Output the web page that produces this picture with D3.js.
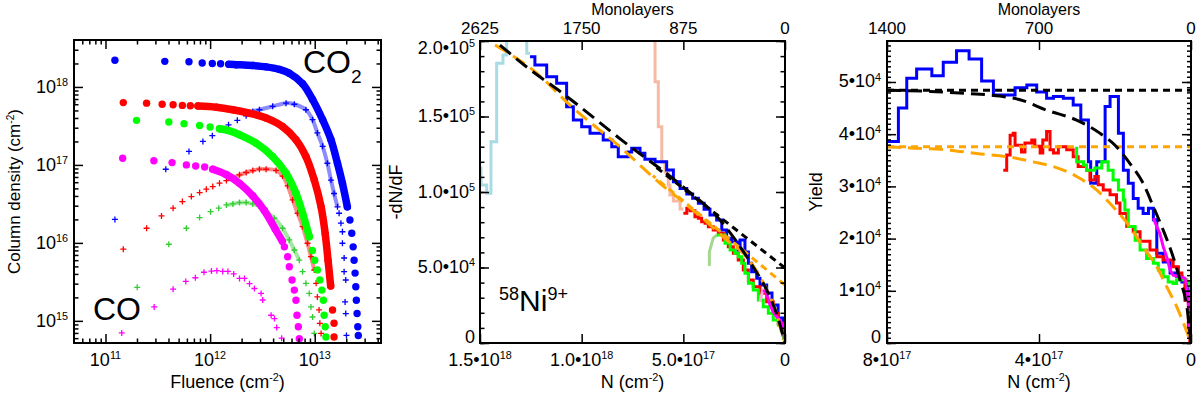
<!DOCTYPE html>
<html>
<head>
<meta charset="utf-8">
<script src="https://cdn.jsdelivr.net/npm/d3@7"></script>
<style>
  body { margin: 0; background: #fff; }
  svg { font-family: "Liberation Sans", Arial, Helvetica, sans-serif; }
  .ax path.domain { display: none; }
  .ax line { stroke: #000; stroke-width: 1.5; }
</style>
</head>
<body>
<div id="chart"></div>
<script>
// ---------- panel 1: column density vs fluence ([fluence, N] in cm^-2) ----------
// big dots = CO2, crosses = CO
const co2Blue = [[1.23e11,2.2e18],[3.69e11,2.13e18],[6.28e11,2.1e18],[8.4e11,2.03e18],[1.05e12,2.0e18],[1.26e12,1.98e18],[1.51e12,1.95e18],
  [1.78e12,1.93e18],[2.56e12,1.88e18],[3.43e12,1.81e18],[4.59e12,1.68e18],[5.71e12,1.5e18],[7.66e12,1.1e18],[9.53e12,6.9e17],[1.19e13,3.8e17],
  [1.43e13,2.1e17],[1.65e13,1.05e17],[1.84e13,5.8e16],[2.05e13,2.9e16],[2.17e13,1.97e16],[2.26e13,1.33e16],[2.33e13,8.9e15],[2.38e13,6.0e15],
  [2.43e13,4.1e15],[2.47e13,2.74e15],[2.5e13,1.84e15],[2.54e13,1.24e15],[2.58e13,8.4e14],[2.61e13,6.5e14]];
const co2BlueTrail = [6, 18];
const co2Red = [[4.8e10,6.3e17],[1.48e11,6.3e17],[2.47e11,6.2e17],[3.48e11,6.0e17],[4.43e11,5.9e17],[5.43e11,5.8e17],[6.47e11,5.75e17],[7.65e11,5.7e17],
  [1.15e12,5.5e17],[1.65e12,5.1e17],[2.38e12,4.6e17],[3.43e12,4.0e17],[4.93e12,3.1e17],[6.62e12,2.1e17],[8.24e12,1.28e17],[9.9e12,6.4e16],
  [1.15e13,2.9e16],[1.26e13,1.3e16],[1.34e13,6.0e15],[1.42e13,2.8e15],[1.48e13,1.38e15],[1.53e13,9.3e14],[1.53e13,6.2e14]];
const co2RedTrail = [7, 19];
const co2Green = [[1.98e11,3.73e17],[4.03e11,3.55e17],[5.63e11,3.38e17],[7.94e11,3.2e17],[1.0e12,3.06e17],[1.23e12,2.91e17],[1.48e12,2.77e17],
  [1.91e12,2.44e17],[2.75e12,1.9e17],[3.96e12,1.28e17],[5.32e12,7.8e16],[6.62e12,4.3e16],[7.66e12,2.4e16],[8.87e12,1.2e16],
  [9.5e12,8.0e15],[1.0e13,6.0e15],[1.06e13,4.5e15],[1.12e13,3.34e15],[1.17e13,2.48e15],[1.21e13,1.84e15],[1.23e13,1.18e15],[1.26e13,8.4e14],[1.28e13,6.2e14]];
const co2GreenTrail = [5, 13];
const co2Magenta = [[1.46e11,1.22e17],[2.9e11,1.13e17],[4.33e11,1.07e17],[5.93e11,1.0e17],[7.28e11,9.7e16],[8.87e11,9.4e16],[1.06e12,8.8e16],
  [1.43e12,7.5e16],[1.91e12,5.8e16],[2.56e12,4.0e16],[3.3e12,2.6e16],[4.2e12,1.5e16],[4.9e12,1.05e16],[5.13e12,8.9e15],
  [5.51e12,6.65e15],[5.71e12,4.95e15],[6.07e12,3.34e15],[6.38e12,2.48e15],[6.62e12,1.84e15],[6.77e12,1.18e15],[6.97e12,8.4e14],[7.12e12,5.9e14]];
const co2MagentaTrail = [6, 12];

const coBlue = [[1.23e11,2.0e16],[3.77e11,8.8e16],[6.28e11,1.49e17],[8.53e11,2.0e17],[1.05e12,2.37e17],[1.26e12,2.83e17],[1.5e12,3.27e17],[1.82e12,3.73e17],
  [2.21e12,4.27e17],[2.56e12,4.86e17],[2.96e12,5.1e17],[3.96e12,5.64e17],[5.32e12,6.2e17],[6.38e12,6.0e17],[8.24e12,5.1e17],[9.53e12,3.8e17],
  [1.06e13,2.57e17],[1.19e13,1.73e17],[1.32e13,1.05e17],[1.43e13,6.4e16],[1.53e13,4.3e16],[1.65e13,2.9e16],
  [1.71e13,2.4e16],[1.78e13,1.79e16],[1.84e13,1.39e16],[1.84e13,9.9e15],[1.91e13,6.4e15],[1.91e13,4.27e15],[1.98e13,3.34e15],
  [1.95e13,1.75e15],[1.98e13,1.24e15],[2.01e13,6.5e14]];
const coBlueTrail = [8, 21];
const coRed = [[4.8e10,2.2e15],[1.48e11,8.3e15],[2.47e11,1.54e16],[3.43e11,2.22e16],[4.43e11,2.79e16],[5.43e11,3.39e16],[6.62e11,3.93e16],
  [7.94e11,4.42e16],[9.2e11,4.88e16],[1.06e12,5.28e16],[1.23e12,5.83e16],[1.43e12,6.3e16],[1.65e12,6.77e16],[1.91e12,7.46e16],[2.21e12,7.99e16],
  [2.56e12,8.47e16],[2.96e12,8.83e16],[3.43e12,8.8e16],[4.27e12,8.5e16],[4.93e12,7.2e16],[5.51e12,5.4e16],[6.15e12,3.56e16],[6.86e12,2.4e16],
  [7.66e12,1.62e16],[8.53e12,9.9e15],[9.2e12,6.65e15],[9.9e12,4.49e15],[1.03e13,3.03e15],[1.06e13,2.03e15],[1.1e13,1.38e15],[1.12e13,9.3e14],[1.15e13,6.9e14]];
const coRedTrail = [12, 26];
const coGreen = [[2.01e11,2.69e15],[4.03e11,9.6e15],[5.93e11,1.54e16],[7.94e11,2.11e16],[1.01e12,2.51e16],[1.21e12,2.79e16],[1.43e12,3.07e16],
  [1.65e12,3.16e16],[1.91e12,3.29e16],[2.21e12,3.29e16],[2.56e12,3.16e16],[2.92e12,2.98e16],[3.3e12,2.64e16],[4.11e12,2.07e16],[4.93e12,1.54e16],
  [5.71e12,1.09e16],[6.38e12,8.1e15],[7.12e12,6.0e15],[7.66e12,4.27e15],[8.24e12,3.03e15],[8.87e12,2.25e15],[9.2e12,1.51e15],[9.53e12,1.12e15],[9.9e12,6.9e14]];
const coGreenTrail = [6, 17];
const coMagenta = [[1.43e11,7.0e14],[2.92e11,1.51e15],[4.43e11,2.55e15],[5.85e11,3.2e15],[7.23e11,3.57e15],[8.73e11,4.2e15],[1.03e12,4.35e15],
  [1.16e12,4.4e15],[1.32e12,4.3e15],[1.48e12,4.3e15],[1.68e12,4.0e15],[1.91e12,3.5e15],[2.13e12,3.5e15],[2.38e12,3.0e15],[2.65e12,2.6e15],
  [3.07e12,2.25e15],[3.18e12,1.85e15],[3.83e12,1.18e15],[4.12e12,1.07e15],[4.33e12,8.2e14],[4.83e12,6.0e14]];

// ---------- panel 2: -dN/dF (1e4) vs N (1e17 cm^-2) ----------
// histograms: bin edges + one value per bin
const p2LightBlueN = [15.10,14.95,14.67,14.46,14.18,13.87,13.69,12.70,12.54];
const p2LightBlueY = [11.59,10.46,9.91,13.33,18.52,19.07,21.4,19.19];
const p2BlueN = [12.54,12.30,11.72,11.23,10.74,10.41,10.00,9.59,8.94,8.52,8.20,7.71,7.54,7.13,6.89,6.39,5.82,5.49,5.16,4.83,
  4.54,4.26,3.98,3.69,3.36,3.11,2.87,2.62,2.31,2.21,1.97,1.80,1.64,1.39,1.23,0.90,0.64,0.34,0.10,0];
const p2BlueY = [18.96,18.41,17.64,17.20,15.65,14.77,14.32,13.89,13.44,13.00,12.34,12.65,12.89,12.56,12.17,12.01,11.46,10.68,10.24,9.87,
  9.58,9.25,8.85,8.48,8.15,7.48,6.93,6.69,6.16,6.82,6.03,5.28,4.72,4.28,3.84,3.31,2.52,1.66,0.53];
const p2SalmonN = [6.64,6.39,6.23,6.06,5.90,5.74,5.66,5.49,5.16,5.00];
const p2SalmonY = [21.06,17.30,14.32,11.99,11.32,10.46,9.80,9.40,8.87];
// traces: one value per point
const p2RedN = [5.00,4.83,4.67,4.43,4.26,4.10,3.93,3.77,3.53,3.28,3.03,2.79,2.54,2.30,2.05,1.80,1.56,1.23,0.90,0.58,0.33,0.11,0.05,0];
const p2RedY = [8.59,8.92,8.76,8.36,8.26,8.03,7.93,7.70,7.48,7.26,6.82,6.38,5.94,5.50,4.83,4.17,3.73,3.29,2.74,1.97,1.30,0.64,0.3,0];
const p2LightGreenN = [3.72,3.72,3.53,3.36];
const p2LightGreenY = [5.10,6.03,6.95,7.15];
const p2GreenN = [3.36,3.20,2.95,2.70,2.46,2.30,2.13,1.97,1.80,1.56,1.31,1.07,0.82,0.58,0.33,0.16,0.05,0];
const p2GreenY = [7.15,7.15,6.60,6.16,5.94,5.72,5.28,4.62,3.95,3.51,2.85,2.40,1.97,1.52,1.19,0.75,0.3,0];
const p2PinkN = [1.23,1.07];
const p2PinkY = [2.74,3.62];
const p2MagentaN = [1.07,0.90,0.74,0.58,0.41,0.25,0.11,0.05,0];
const p2MagentaY = [3.51,3.29,2.52,2.07,1.74,1.52,1.19,0.64,0];
// fits
const p2BlackCurveN = [14.02,12.62,10.82,8.03,5.02,3.20,1.57,0.90,0.39,0];
const p2BlackCurveY = [19.73,18.19,16.42,13.44,10.35,8.15,5.05,3.51,1.85,0];
const p2OrangeCurveN = [14.26,12.30,10.49,8.03,6.15,4.83,3.85,2.87,2.05,1.23,0.74,0.41,0.16,0];
const p2OrangeCurveY = [19.73,17.97,15.65,12.89,10.58,9.14,8.03,6.82,5.94,4.39,3.07,1.97,0.64,0];
const p2LineN = [0, 6.5];
const p2BlackLineY = [4.97, 11.81];
const p2OrangeLineY = [3.84, 11.08];

// ---------- panel 3: yield (1e4) vs N (1e17 cm^-2) ----------
const p3BlueN = [8.00,7.70,7.48,7.22,6.82,6.52,6.17,5.84,5.51,5.20,4.63,4.32,4.06,3.80,3.62,3.36,3.10,2.90,2.70,2.64,
  2.48,2.26,2.13,1.91,1.78,1.65,1.52,1.39,1.26,1.12,0.99,0.90,0.73,0.55,0.38,0.24,0.11,0.05,0];
const p3BlueY = [3.86,4.50,5.07,5.25,5.12,5.38,5.60,5.44,5.02,4.75,4.89,4.94,4.81,4.69,4.72,4.69,4.56,4.27,3.47,3.06,
  3.47,4.53,4.72,4.02,3.31,3.06,2.77,2.58,2.48,2.58,2.36,1.72,1.55,1.34,1.28,1.17,1.07,0.25];
const p3RedN = [4.94,4.85,4.76,4.68,4.63,4.46,4.37,4.19,4.11,3.97,3.90,3.80,3.71,3.62,3.49,3.27,3.10,2.97,2.75,2.66,
  2.53,2.44,2.31,2.13,1.96,1.87,1.69,1.52,1.34,1.08,0.90,0.73,0.47,0.33,0.24,0.16,0.07,0.03];
const p3RedY = [3.31,3.60,3.98,4.02,3.79,3.66,3.83,3.89,3.77,3.64,3.89,4.05,3.70,3.64,3.76,3.70,3.57,3.38,3.31,3.12,
  3.19,3.03,2.93,2.84,2.68,2.48,2.23,2.13,1.95,1.78,1.65,1.59,1.46,1.34,1.21,0.82,0.31,0];
const p3GreenN = [3.05,3.01,2.83,2.75,2.53,2.35,2.22,2.18,2.05,1.91,1.78,1.74,1.65,1.47,1.34,1.17,0.99,0.86,0.73,0.60,0.47,0.38,0.20,0.11,0.03,0.01,0];
const p3GreenY = [3.73,3.47,3.41,3.31,3.35,3.47,3.47,3.31,3.12,2.93,2.74,2.55,2.23,1.97,1.78,1.62,1.53,1.40,1.27,1.17,1.14,1.21,1.21,1.17,1.08,0.63,0];
const p3MagentaN = [0.99,0.90,0.82,0.73,0.64,0.55,0.47,0.29,0.16,0.11,0.066,0.03,0];
const p3MagentaY = [2.39,2.23,2.10,1.84,1.65,1.40,1.30,1.27,1.24,1.08,0.73,0.25,0];
const p3BlackFlat = 4.84;
const p3OrangeFlat = 3.76;
const p3BlackCurveN = [8.00,6.87,5.90,5.03,4.50,3.80,3.01,2.40,1.96,1.61,1.26,0.99,0.73,0.47,0.29,0.11,0];
const p3BlackCurveY = [4.84,4.82,4.78,4.73,4.66,4.46,4.27,4.02,3.76,3.44,3.06,2.61,2.16,1.65,1.21,0.70,0];
const p3OrangeCurveN = [8.00,7.22,6.43,5.64,4.85,4.15,3.62,3.01,2.48,2.05,1.61,1.26,0.90,0.64,0.38,0.16,0];
const p3OrangeCurveY = [3.76,3.73,3.70,3.63,3.57,3.47,3.38,3.19,2.93,2.61,2.23,1.84,1.46,1.08,0.70,0.31,0];

// tick labels
const p1XTicks = [1e11, 1e12, 1e13], p1XExp = ["11", "12", "13"];
const p1YTicks = [1e15, 1e16, 1e17, 1e18], p1YExp = ["15", "16", "17", "18"];
const p2XTicks = [15, 10, 5, 0], p2XText = ["1.5\u202210", "1.0\u202210", "5.0\u202210", "0"], p2XExp = ["18", "18", "17", ""];
const p2YTicks = [20, 15, 10, 5, 0], p2YText = ["2.0\u202210", "1.5\u202210", "1.0\u202210", "5.0\u202210", "0"], p2YExp = ["5", "5", "5", "4", ""];
const p2TopTicks = [2625, 1750, 875, 0];
const p3XTicks = [8, 4, 0], p3XText = ["8\u202210", "4\u202210", "0"], p3XExp = ["17", "17", ""];
const p3YTicks = [5, 4, 3, 2, 1, 0], p3YText = ["5\u202210", "4\u202210", "3\u202210", "2\u202210", "1\u202210", "0"], p3YExp = ["4", "4", "4", "4", "4", ""];
const p3TopTicks = [1400, 700, 0];

const BLUE = "#0000ff", RED = "#ff0000", GREEN = "#00ff00", MAGENTA = "#ff00ff", ORANGE = "#ffa500";

var svg = d3.select("#chart").append("svg")
    .attr("width", 1200)
    .attr("height", 395);

// text made of parts, some raised (sup) or lowered (sub)
function richText(g, x, y, parts, size, anchor) {
    const t = g.append("text")
        .attr("x", x).attr("y", y)
        .attr("font-size", size)
        .attr("text-anchor", anchor || "middle");
    let shift = 0;
    parts.forEach(p => {
        const target = p.sup ? -size * 0.38 : p.sub ? size * 0.3 : 0;
        t.append("tspan")
            .attr("dy", target - shift)
            .attr("font-size", (p.sup || p.sub) ? size * 0.6 : size)
            .text(p.t);
        shift = target;
    });
    return t;
}

function ticks(g, scale, side, values, len, pos) {
    const make = {bottom: d3.axisBottom, top: d3.axisTop, left: d3.axisLeft, right: d3.axisRight}[side];
    const t = (side === "bottom" || side === "top") ? `translate(0,${pos})` : `translate(${pos},0)`;
    g.append("g")
        .attr("class", "ax")
        .attr("transform", t)
        .call(make(scale).tickValues(values).tickSize(-len).tickFormat(""));
}

function logMinors(lo, hi) {
    const out = [];
    for (let e = Math.floor(Math.log10(lo)); e <= Math.ceil(Math.log10(hi)); e++) {
        for (let m = 2; m <= 9; m++) {
            const v = m * Math.pow(10, e);
            if (v > lo && v < hi) out.push(v);
        }
    }
    return out;
}

function panelFrame(box, id) {
    svg.append("clipPath").attr("id", id)
        .append("rect").attr("x", box.x0).attr("y", box.y0)
        .attr("width", box.x1 - box.x0).attr("height", box.y1 - box.y0);
    return svg.append("g").attr("clip-path", `url(#${id})`);
}

function drawFrame(box) {
    svg.append("rect")
        .attr("x", box.x0).attr("y", box.y0)
        .attr("width", box.x1 - box.x0).attr("height", box.y1 - box.y0)
        .attr("fill", "none").attr("stroke", "#000").attr("stroke-width", 2);
}

// y tick labels sit on the tick, pushed inside the frame at both ends
function yLabelBase(ty, box) {
    return Math.min(Math.max(ty + 5.5, box.y0 + 13), box.y1);
}

const TICK_BASE = 366, TITLE_BASE = 388, TOP_BASE = 33.5, ML_BASE = 14.6;

// ================= panel 1 =================
const b1 = {x0: 74, x1: 381, y0: 40, y1: 343};
const x1 = d3.scaleLog().domain([5e10, 4.3e13]).range([b1.x0, b1.x1]);
const y1 = d3.scaleLog().domain([5.2e14, 4e18]).range([b1.y1, b1.y0]);
const g1 = panelFrame(b1, "clip1");

const co2Series = [
    {data: co2Blue, trail: co2BlueTrail, color: BLUE},
    {data: co2Red, trail: co2RedTrail, color: RED},
    {data: co2Green, trail: co2GreenTrail, color: GREEN},
    {data: co2Magenta, trail: co2MagentaTrail, color: MAGENTA}
];
const coSeries = [
    {data: coBlue, trail: coBlueTrail, color: BLUE},
    {data: coRed, trail: coRedTrail, color: RED},
    {data: coGreen, trail: coGreenTrail, color: "#33cc33"},
    {data: coMagenta, trail: null, color: MAGENTA}
];
const trailLine = d3.line().x(d => x1(d[0])).y(d => y1(d[1])).curve(d3.curveCatmullRom);

coSeries.forEach(s => {
    if (s.trail) {
        g1.append("path")
            .attr("d", trailLine(s.data.slice(s.trail[0], s.trail[1] + 1)))
            .attr("fill", "none").attr("stroke", s.color)
            .attr("stroke-width", 4).attr("stroke-opacity", 0.45);
    }
    g1.selectAll(null).data(s.data).join("path")
        .attr("transform", d => `translate(${x1(d[0])},${y1(d[1])})`)
        .attr("d", "M-3,0H3M0,-3V3")
        .attr("stroke", s.color).attr("stroke-width", 1.3);
});

co2Series.forEach(s => {
    g1.append("path")
        .attr("d", trailLine(s.data.slice(s.trail[0], s.trail[1] + 1)))
        .attr("fill", "none").attr("stroke", s.color)
        .attr("stroke-width", 7.5).attr("stroke-linecap", "round").attr("stroke-linejoin", "round");
    g1.selectAll(null).data(s.data).join("circle")
        .attr("cx", d => x1(d[0])).attr("cy", d => y1(d[1]))
        .attr("r", 3.7).attr("fill", s.color);
});

drawFrame(b1);
const p1XMin = logMinors(5e10, 4.3e13), p1YMin = logMinors(5.2e14, 4e18);
ticks(svg, x1, "bottom", p1XTicks, 9, b1.y1);
ticks(svg, x1, "bottom", p1XMin, 4.5, b1.y1);
ticks(svg, x1, "top", p1XTicks, 9, b1.y0);
ticks(svg, x1, "top", p1XMin, 4.5, b1.y0);
ticks(svg, y1, "left", p1YTicks, 9, b1.x0);
ticks(svg, y1, "left", p1YMin, 4.5, b1.x0);
ticks(svg, y1, "right", p1YTicks, 9, b1.x1);
ticks(svg, y1, "right", p1YMin, 4.5, b1.x1);

p1XTicks.forEach((v, i) => richText(svg, x1(v), TICK_BASE, [{t: "10"}, {t: p1XExp[i], sup: true}], 18));
p1YTicks.forEach((v, i) => richText(svg, 68, y1(v) + 6, [{t: "10"}, {t: p1YExp[i], sup: true}], 18, "end"));
richText(svg, (b1.x0 + b1.x1) / 2, TITLE_BASE, [{t: "Fluence (cm"}, {t: "-2", sup: true}, {t: ")"}], 18);
richText(svg.append("g").attr("transform", `translate(20,${(b1.y0 + b1.y1) / 2}) rotate(-90)`), 0, 0,
    [{t: "Column density (cm"}, {t: "-2", sup: true}, {t: ")"}], 17);
richText(svg, 303, 73, [{t: "CO"}, {t: "2", sub: true}], 32, "start");
richText(svg, 93, 320, [{t: "CO"}], 32, "start");

// ================= panel 2 =================
const b2 = {x0: 480, x1: 785, y0: 41, y1: 343};
const x2 = d3.scaleLinear().domain([15, 0]).range([b2.x0, b2.x1]);
const y2 = d3.scaleLinear().domain([0, 20]).range([b2.y1, b2.y0]);
const x2top = d3.scaleLinear().domain([2625, 0]).range([b2.x0, b2.x1]);
const g2 = panelFrame(b2, "clip2");

function histPts(ns, ys) { return ns.map((n, i) => [n, ys[Math.min(i, ys.length - 1)]]); }
function pts(ns, ys) { return ns.map((n, i) => [n, ys[i]]); }

function drawTrace(g, xs, ys, data, color, curve, dash) {
    g.append("path")
        .attr("d", d3.line().x(d => xs(d[0])).y(d => ys(d[1])).curve(curve)(data))
        .attr("fill", "none").attr("stroke", color).attr("stroke-width", 3)
        .attr("stroke-dasharray", dash || null);
}

drawTrace(g2, x2, y2, histPts(p2LightBlueN, p2LightBlueY), "#a9dbe3", d3.curveStepAfter);
drawTrace(g2, x2, y2, histPts(p2SalmonN, p2SalmonY), "#f5b9a4", d3.curveStepAfter);
drawTrace(g2, x2, y2, pts(p2LightGreenN, p2LightGreenY), "#a5d88f", d3.curveLinear);
drawTrace(g2, x2, y2, histPts(p2BlueN, p2BlueY), BLUE, d3.curveStepAfter);
drawTrace(g2, x2, y2, pts(p2RedN, p2RedY), RED, d3.curveStepAfter);
drawTrace(g2, x2, y2, pts(p2GreenN, p2GreenY), GREEN, d3.curveStepAfter);
drawTrace(g2, x2, y2, pts(p2PinkN, p2PinkY), "#f7b3d3", d3.curveLinear);
drawTrace(g2, x2, y2, pts(p2MagentaN, p2MagentaY), MAGENTA, d3.curveLinear);
drawTrace(g2, x2, y2, pts(p2OrangeCurveN, p2OrangeCurveY), ORANGE, d3.curveMonotoneX, "14,7");
drawTrace(g2, x2, y2, pts(p2LineN, p2OrangeLineY), ORANGE, d3.curveLinear, "7,5");
drawTrace(g2, x2, y2, pts(p2BlackCurveN, p2BlackCurveY), "#000", d3.curveMonotoneX, "14,7");
drawTrace(g2, x2, y2, pts(p2LineN, p2BlackLineY), "#000", d3.curveLinear, "7,5");

drawFrame(b2);
const p2YMin = d3.range(0, 20.01, 1);
ticks(svg, x2, "bottom", p2XTicks, 9, b2.y1);
ticks(svg, x2top, "top", p2TopTicks, 9, b2.y0);
ticks(svg, y2, "left", p2YTicks, 9, b2.x0);
ticks(svg, y2, "left", p2YMin, 4.5, b2.x0);
ticks(svg, y2, "right", p2YTicks, 9, b2.x1);
ticks(svg, y2, "right", p2YMin, 4.5, b2.x1);

p2XTicks.forEach((v, i) => richText(svg, x2(v), TICK_BASE, [{t: p2XText[i]}, {t: p2XExp[i], sup: true}], 18));
p2YTicks.forEach((v, i) => richText(svg, 475, yLabelBase(y2(v), b2), [{t: p2YText[i]}, {t: p2YExp[i], sup: true}], 18, "end"));
p2TopTicks.forEach(v => richText(svg, x2top(v), TOP_BASE, [{t: String(v)}], 17));
richText(svg, (b2.x0 + b2.x1) / 2, ML_BASE, [{t: "Monolayers"}], 16);
richText(svg, (b2.x0 + b2.x1) / 2, TITLE_BASE, [{t: "N (cm"}, {t: "-2", sup: true}, {t: ")"}], 18);
richText(svg.append("g").attr("transform", `translate(402,${(b2.y0 + b2.y1) / 2}) rotate(-90)`), 0, 0, [{t: "-dN/dF"}], 18);
richText(svg, 499, 311, [{t: "58", sup: true}, {t: "Ni"}, {t: "9+", sup: true}], 30, "start");

// ================= panel 3 =================
const b3 = {x0: 887, x1: 1191, y0: 41, y1: 343};
const x3 = d3.scaleLinear().domain([8, 0]).range([b3.x0, b3.x1]);
const y3 = d3.scaleLinear().domain([0, 5.785]).range([b3.y1, b3.y0]);
const x3top = d3.scaleLinear().domain([1400, 0]).range([b3.x0, b3.x1]);
const g3 = panelFrame(b3, "clip3");

drawTrace(g3, x3, y3, histPts(p3BlueN, p3BlueY), BLUE, d3.curveStepAfter);
drawTrace(g3, x3, y3, pts(p3RedN, p3RedY), RED, d3.curveStepAfter);
drawTrace(g3, x3, y3, pts(p3GreenN, p3GreenY), GREEN, d3.curveStepAfter);
drawTrace(g3, x3, y3, pts(p3MagentaN, p3MagentaY), MAGENTA, d3.curveLinear);
drawTrace(g3, x3, y3, [[8, p3OrangeFlat], [0, p3OrangeFlat]], ORANGE, d3.curveLinear, "7,5");
drawTrace(g3, x3, y3, pts(p3OrangeCurveN, p3OrangeCurveY), ORANGE, d3.curveMonotoneX, "14,7");
drawTrace(g3, x3, y3, [[8, p3BlackFlat], [0, p3BlackFlat]], "#000", d3.curveLinear, "7,5");
drawTrace(g3, x3, y3, pts(p3BlackCurveN, p3BlackCurveY), "#000", d3.curveMonotoneX, "14,7");

drawFrame(b3);
const p3YMin = d3.range(0, 5.78, 0.1);
ticks(svg, x3, "bottom", p3XTicks, 9, b3.y1);
ticks(svg, x3top, "top", p3TopTicks, 9, b3.y0);
ticks(svg, y3, "left", p3YTicks, 9, b3.x0);
ticks(svg, y3, "left", p3YMin, 4, b3.x0);
ticks(svg, y3, "right", p3YTicks, 9, b3.x1);
ticks(svg, y3, "right", p3YMin, 4, b3.x1);

p3XTicks.forEach((v, i) => richText(svg, x3(v), TICK_BASE, [{t: p3XText[i]}, {t: p3XExp[i], sup: true}], 18));
p3YTicks.forEach((v, i) => richText(svg, 881, yLabelBase(y3(v), b3), [{t: p3YText[i]}, {t: p3YExp[i], sup: true}], 18, "end"));
p3TopTicks.forEach(v => richText(svg, x3top(v), TOP_BASE, [{t: String(v)}], 17));
richText(svg, (b3.x0 + b3.x1) / 2, ML_BASE, [{t: "Monolayers"}], 16);
richText(svg, (b3.x0 + b3.x1) / 2, TITLE_BASE, [{t: "N (cm"}, {t: "-2", sup: true}, {t: ")"}], 18);
richText(svg.append("g").attr("transform", `translate(822,${(b3.y0 + b3.y1) / 2}) rotate(-90)`), 0, 0, [{t: "Yield"}], 18);
</script>
</body>
</html>
